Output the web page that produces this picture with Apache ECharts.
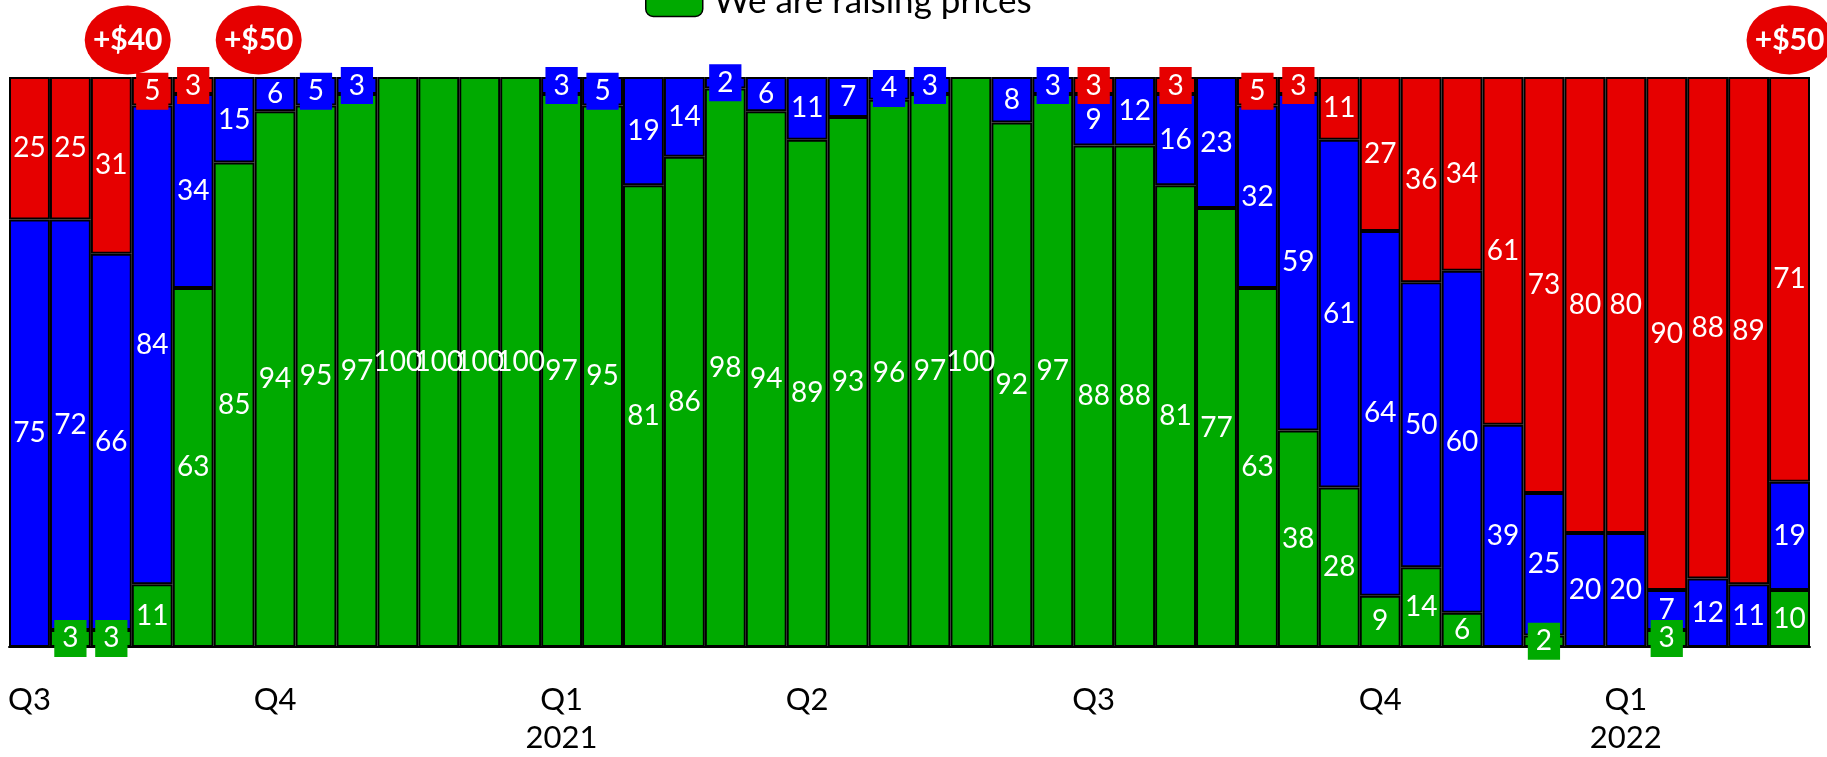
<!DOCTYPE html>
<html>
<head>
<meta charset="utf-8">
<script src="https://cdn.jsdelivr.net/npm/echarts@6/dist/echarts.min.js"></script>
<style>
html,body{margin:0;padding:0;background:#fff;}
#chart{width:1827px;height:757px;}
</style>
</head>
<body>
<div id="chart"></div>
<script>
const categories = ['Q3','','','','','','Q4','','','','','','','Q1\n2021','','','','','','Q2','','','','','','','Q3','','','','','','','Q4','','','','','','Q1\n2022','','','',''];
const greenValues = [0,3,3,11,63,85,94,95,97,100,100,100,100,97,95,81,86,98,94,89,93,96,97,100,92,97,88,88,81,77,63,38,28,9,14,6,0,2,0,0,3,0,0,10];
const blueValues  = [75,72,66,84,34,15,6,5,3,0,0,0,0,3,5,19,14,2,6,11,7,4,3,0,8,3,9,12,16,23,32,59,61,64,50,60,39,25,20,20,7,12,11,19];
const redValues   = [25,25,31,5,3,0,0,0,0,0,0,0,0,0,0,0,0,0,0,0,0,0,0,0,0,0,3,0,3,0,5,3,11,27,36,34,61,73,80,80,90,88,89,71];
const annotationX = [2.4, 5.6, 43];
const annotationY = [106.5, 106.5, 106.5];
const annotationText = ['+$40', '+$50', '+$50'];

const GREEN = '#00AA00', BLUE = '#0000FF', RED = '#E60000';
const FONT = 'Lato';

function barData(values, color) {
  return values.map(v => {
    if (!v) return null;
    const item = { value: v };
    if (v <= 5) {
      item.label = { backgroundColor: color, padding: [6, 8, 3, 8], lineHeight: 28 };
    }
    return item;
  });
}
function barSeries(name, values, color) {
  return {
    name: name, type: 'bar', stack: 'all', barCategoryGap: '0%',
    data: barData(values, color),
    itemStyle: { color: color, borderColor: '#000', borderWidth: 2 },
    label: { show: true, position: 'inside', color: '#fff', fontFamily: FONT, fontSize: 28,
             formatter: p => (p.value ? String(p.value) : '') },
    emphasis: { disabled: true }
  };
}

const chart = echarts.init(document.getElementById('chart'));
chart.setOption({
  animation: false,
  backgroundColor: '#fff',
  legend: {
    data: ['We are raising prices'],
    left: 640, top: -21,
    itemWidth: 57, itemHeight: 30, itemGap: 10,
    textStyle: { fontFamily: FONT, fontSize: 35, color: '#000', padding: [0, 0, 0, 6] },
    itemStyle: { borderColor: '#000', borderWidth: 1.5 }
  },
  grid: { left: 9, right: 17, top: 77, bottom: 103 },
  xAxis: [
    { type: 'category', data: categories,
      axisLine: { show: true, lineStyle: { color: '#000', width: 2 } },
      axisTick: { show: false },
      axisLabel: { interval: 0, color: '#000', fontFamily: FONT, fontSize: 31, lineHeight: 38, margin: 34 } },
    { type: 'value', min: -0.5, max: 43.5, show: false }
  ],
  yAxis: { type: 'value', min: 0, max: 100, show: false },
  series: [
    barSeries('We are raising prices', greenValues, GREEN),
    barSeries('Blue', blueValues, BLUE),
    barSeries('Red', redValues, RED),
    {
      type: 'scatter', xAxisIndex: 1, yAxisIndex: 0, clip: false, z: 10,
      symbol: 'circle', symbolSize: [86, 69],
      itemStyle: { color: RED, opacity: 1 },
      data: annotationX.map((x, i) => [x, annotationY[i], annotationText[i]]),
      label: { show: true, position: 'inside', color: '#fff', fontFamily: FONT, fontWeight: 'bold', fontSize: 30,
               formatter: p => p.data[2] },
      emphasis: { disabled: true }
    }
  ]
});
</script>
</body>
</html>
